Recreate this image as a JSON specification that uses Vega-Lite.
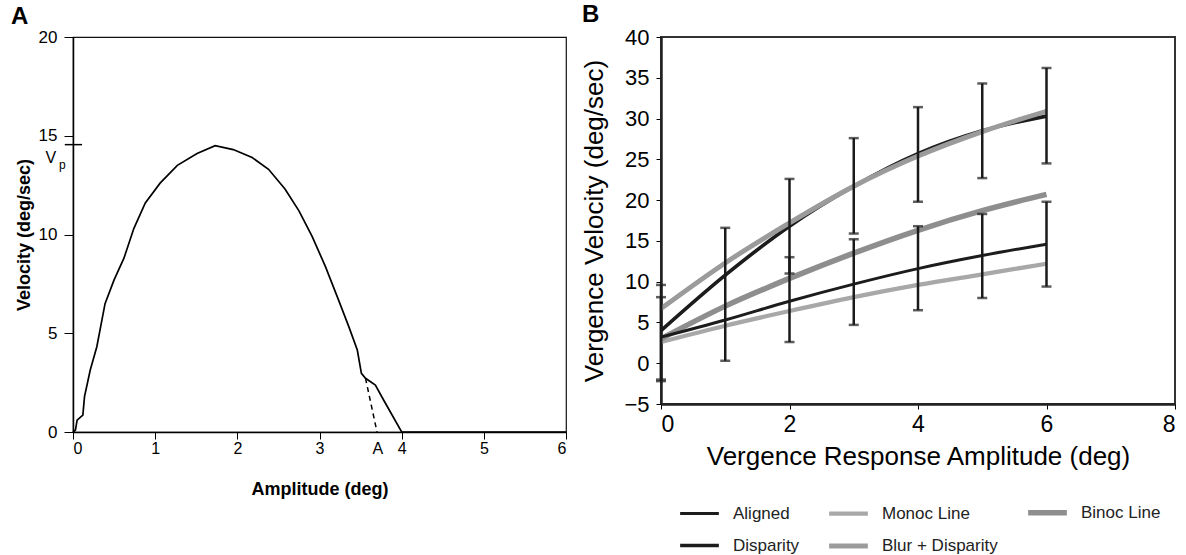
{
  "$schema": "https://vega.github.io/schema/vega-lite/v6.json",
  "padding": {"left": 10, "top": 2, "right": 4, "bottom": 0},
  "spacing": 10,
  "resolve": {"scale": {"color": "independent", "strokeWidth": "independent", "x": "independent", "y": "independent"}, "legend": {"color": "independent", "strokeWidth": "independent"}},
  "config": {
    "font": "Liberation Sans",
    "axis": {"grid": false, "domainColor": "black", "tickColor": "black", "labelColor": "black", "titleColor": "black"},
    "title": {"color": "black"}
  },
  "hconcat": [
    {
      "width": 493,
      "height": 395,
      "title": {"text": "A", "anchor": "start", "frame": "bounds", "fontSize": 24, "fontWeight": "bold", "offset": -1, "dx": -4},
      "view": {"stroke": "#111", "strokeWidth": 1.2},
      "layer": [
        {
          "data": {"values": [
            {"amp": 0.0, "vel": 0.0},
            {"amp": 0.03, "vel": 0.1},
            {"amp": 0.05, "vel": 0.6},
            {"amp": 0.12, "vel": 0.86},
            {"amp": 0.14, "vel": 1.79},
            {"amp": 0.21, "vel": 3.14},
            {"amp": 0.29, "vel": 4.32},
            {"amp": 0.39, "vel": 6.5},
            {"amp": 0.5, "vel": 7.7},
            {"amp": 0.62, "vel": 8.8},
            {"amp": 0.74, "vel": 10.3},
            {"amp": 0.88, "vel": 11.6},
            {"amp": 1.06, "vel": 12.6},
            {"amp": 1.27, "vel": 13.5},
            {"amp": 1.51, "vel": 14.1},
            {"amp": 1.73, "vel": 14.5},
            {"amp": 1.95, "vel": 14.3},
            {"amp": 2.18, "vel": 13.9},
            {"amp": 2.38, "vel": 13.3},
            {"amp": 2.58, "vel": 12.3},
            {"amp": 2.75, "vel": 11.2},
            {"amp": 2.91, "vel": 9.9},
            {"amp": 3.07, "vel": 8.4},
            {"amp": 3.23, "vel": 6.7},
            {"amp": 3.36, "vel": 5.3},
            {"amp": 3.46, "vel": 4.15},
            {"amp": 3.51, "vel": 2.97},
            {"amp": 3.56, "vel": 2.72},
            {"amp": 3.68, "vel": 2.38},
            {"amp": 3.78, "vel": 1.62},
            {"amp": 4.0, "vel": 0.0},
            {"amp": 6.0, "vel": 0.0}
          ]},
          "mark": {"type": "line", "color": "black", "strokeWidth": 1.7},
          "encoding": {
            "x": {"field": "amp", "type": "quantitative", "scale": {"domain": [0, 6], "padding": 0, "nice": false, "zero": false},
              "axis": {"values": [0, 1, 2, 3, 4, 5, 6], "format": "d", "title": "Amplitude (deg)", "titleFontSize": 18, "titleFontWeight": "bold", "labelFontSize": 16, "tickSize": 7, "labelPadding": 1, "titlePadding": 24, "domainWidth": 1.5}},
            "y": {"field": "vel", "type": "quantitative", "scale": {"domain": [0, 20], "padding": 0, "nice": false, "zero": false},
              "axis": {"values": [0, 5, 10, 15, 20], "format": "d", "title": "Velocity (deg/sec)", "titleFontSize": 18, "titleFontWeight": "bold", "labelFontSize": 17, "tickSize": 9, "labelPadding": 7, "titlePadding": 5, "domainWidth": 1.5}}
          }
        },
        {
          "data": {"values": [
            {"amp": 3.56, "vel": 2.72},
            {"amp": 3.7, "vel": 0.0}
          ]},
          "mark": {"type": "line", "color": "black", "strokeWidth": 1.5, "strokeDash": [5, 4]},
          "encoding": {
            "x": {"field": "amp", "type": "quantitative"},
            "y": {"field": "vel", "type": "quantitative"}
          }
        },
        {
          "data": {"values": [{"x1": -0.1, "x2": 0.11, "vp": 14.55}]},
          "mark": {"type": "rule", "color": "black", "strokeWidth": 1.5},
          "encoding": {
            "x": {"field": "x1", "type": "quantitative"},
            "x2": {"field": "x2"},
            "y": {"field": "vp", "type": "quantitative"}
          }
        },
        {
          "data": {"values": [{"amp": -0.27, "vel": 13.85, "label": "V"}, {"amp": 3.71, "vel": -0.86, "label": "A"}]},
          "mark": {"type": "text", "fontSize": 16, "color": "black", "align": "center", "baseline": "middle"},
          "encoding": {
            "x": {"field": "amp", "type": "quantitative"},
            "y": {"field": "vel", "type": "quantitative"},
            "text": {"field": "label"}
          }
        },
        {
          "data": {"values": [{"amp": -0.13, "vel": 13.5, "label": "p"}]},
          "mark": {"type": "text", "fontSize": 12, "color": "black", "align": "center", "baseline": "middle"},
          "encoding": {
            "x": {"field": "amp", "type": "quantitative"},
            "y": {"field": "vel", "type": "quantitative"},
            "text": {"field": "label"}
          }
        }
      ]
    },
    {
      "width": 514,
      "height": 367,
      "title": {"text": "B", "anchor": "start", "frame": "bounds", "fontSize": 24, "fontWeight": "bold", "offset": -1},
      "view": {"stroke": "#333", "strokeWidth": 2},
      "layer": [
        {
          "data": {"values": [
            {"series": "Monoc Line", "x": 0, "v": 2.6},
            {"series": "Monoc Line", "x": 1, "v": 4.6},
            {"series": "Monoc Line", "x": 2, "v": 6.4},
            {"series": "Monoc Line", "x": 3, "v": 8.1},
            {"series": "Monoc Line", "x": 4, "v": 9.6},
            {"series": "Monoc Line", "x": 5, "v": 10.9},
            {"series": "Monoc Line", "x": 6, "v": 12.2},
            {"series": "Binoc Line", "x": 0, "v": 3.0},
            {"series": "Binoc Line", "x": 1, "v": 7.0},
            {"series": "Binoc Line", "x": 2, "v": 10.4},
            {"series": "Binoc Line", "x": 3, "v": 13.5},
            {"series": "Binoc Line", "x": 4, "v": 16.3},
            {"series": "Binoc Line", "x": 5, "v": 18.7},
            {"series": "Binoc Line", "x": 6, "v": 20.7},
            {"series": "Aligned", "x": 0, "v": 3.2},
            {"series": "Aligned", "x": 1, "v": 5.3},
            {"series": "Aligned", "x": 2, "v": 7.6},
            {"series": "Aligned", "x": 3, "v": 9.7},
            {"series": "Aligned", "x": 4, "v": 11.6},
            {"series": "Aligned", "x": 5, "v": 13.2},
            {"series": "Aligned", "x": 6, "v": 14.6},
            {"series": "Disparity", "x": 0, "v": 4.0},
            {"series": "Disparity", "x": 1, "v": 10.8},
            {"series": "Disparity", "x": 2, "v": 16.8},
            {"series": "Disparity", "x": 3, "v": 21.7},
            {"series": "Disparity", "x": 4, "v": 25.7},
            {"series": "Disparity", "x": 5, "v": 28.5},
            {"series": "Disparity", "x": 6, "v": 30.3},
            {"series": "Blur + Disparity", "x": 0, "v": 6.7},
            {"series": "Blur + Disparity", "x": 1, "v": 12.3},
            {"series": "Blur + Disparity", "x": 2, "v": 17.2},
            {"series": "Blur + Disparity", "x": 3, "v": 21.7},
            {"series": "Blur + Disparity", "x": 4, "v": 25.4},
            {"series": "Blur + Disparity", "x": 5, "v": 28.4},
            {"series": "Blur + Disparity", "x": 6, "v": 30.9}
          ]},
          "mark": {"type": "line", "interpolate": "monotone"},
          "encoding": {
            "x": {"field": "x", "type": "quantitative", "scale": {"domain": [0, 8], "padding": 0, "nice": false, "zero": false},
              "axis": {"values": [0, 2, 4, 6, 8], "format": "d", "title": "Vergence Response Amplitude (deg)", "titleFontSize": 26, "titleFontWeight": "normal", "labelFontSize": 23, "tickSize": 5, "labelPadding": 4, "titlePadding": 7, "domainWidth": 2.5, "domainColor": "#222"}},
            "y": {"field": "v", "type": "quantitative", "scale": {"domain": [-5, 40], "padding": 0, "nice": false, "zero": false},
              "axis": {"values": [-5, 0, 5, 10, 15, 20, 25, 30, 35, 40], "format": "d", "title": "Vergence Velocity (deg/sec)", "titleFontSize": 26, "titleFontWeight": "normal", "labelFontSize": 22, "tickSize": 5, "labelPadding": 7, "titlePadding": 16, "domainWidth": 2.5, "domainColor": "#222"}},
            "color": {"field": "series", "type": "nominal",
              "sort": ["Aligned", "Disparity", "Monoc Line", "Blur + Disparity", "Binoc Line"],
              "scale": {"domain": ["Aligned", "Disparity", "Monoc Line", "Blur + Disparity", "Binoc Line"], "range": ["#1c1c1c", "#1c1c1c", "#a8a8a8", "#9b9b9b", "#8e8e8e"]},
              "legend": {"title": null, "orient": "none", "direction": "vertical", "legendX": 16, "legendY": 453, "columns": 3, "symbolType": "stroke", "symbolSize": 1500, "labelFontSize": 17, "labelColor": "#222", "columnPadding": 19, "rowPadding": -14, "labelOffset": 11,
                "encode": {"symbols": {"update": {"strokeWidth": {"signal": "datum.value === 'Disparity' || datum.value === 'Binoc Line' ? 6 : datum.value === 'Blur + Disparity' ? 5 : 3"}}}}}},
            "strokeWidth": {"field": "series", "type": "nominal",
              "sort": ["Aligned", "Disparity", "Monoc Line", "Blur + Disparity", "Binoc Line"],
              "scale": {"domain": ["Aligned", "Disparity", "Monoc Line", "Blur + Disparity", "Binoc Line"], "range": [3, 5.5, 3, 5, 6]},
              "legend": null}
          }
        },
        {
          "data": {"name": "err", "values": [
            {"x": 0, "lo": -2.2, "hi": 9.6},
            {"x": 0, "lo": -2.0, "hi": 8.1},
            {"x": 1, "lo": 0.3, "hi": 16.6},
            {"x": 2, "lo": 11.0, "hi": 22.6},
            {"x": 2, "lo": 2.6, "hi": 13.0},
            {"x": 3, "lo": 15.9, "hi": 27.6},
            {"x": 3, "lo": 4.7, "hi": 15.2},
            {"x": 4, "lo": 19.8, "hi": 31.4},
            {"x": 4, "lo": 6.5, "hi": 16.8},
            {"x": 5, "lo": 22.7, "hi": 34.3},
            {"x": 5, "lo": 8.0, "hi": 18.3},
            {"x": 6, "lo": 24.5, "hi": 36.2},
            {"x": 6, "lo": 9.4, "hi": 19.8}
          ]},
          "mark": {"type": "rule", "color": "#1a1a1a", "strokeWidth": 2.5},
          "encoding": {
            "x": {"field": "x", "type": "quantitative"},
            "y": {"field": "lo", "type": "quantitative"},
            "y2": {"field": "hi"}
          }
        },
        {
          "data": {"name": "err"},
          "mark": {"type": "tick", "orient": "horizontal", "color": "#1a1a1a", "size": 10, "thickness": 2.5},
          "encoding": {
            "x": {"field": "x", "type": "quantitative"},
            "y": {"field": "lo", "type": "quantitative"}
          }
        },
        {
          "data": {"name": "err"},
          "mark": {"type": "tick", "orient": "horizontal", "color": "#1a1a1a", "size": 10, "thickness": 2.5},
          "encoding": {
            "x": {"field": "x", "type": "quantitative"},
            "y": {"field": "hi", "type": "quantitative"}
          }
        }
      ]
    }
  ]
}
